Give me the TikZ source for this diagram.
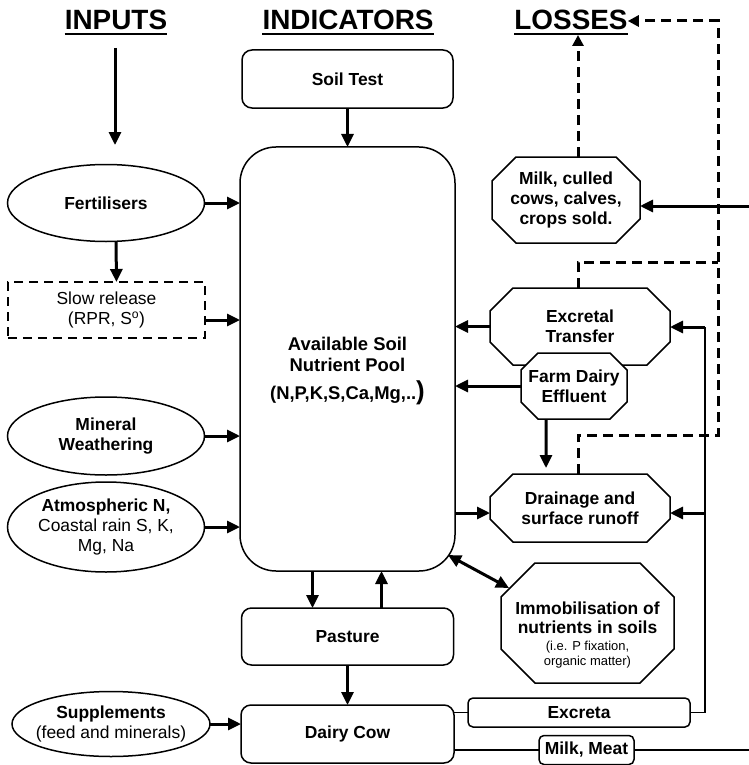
\documentclass[tikz,border=0pt]{standalone}
\usepackage{fontspec}
\setmainfont{Liberation Sans}
\usetikzlibrary{shapes.geometric,arrows.meta,calc}

\makeatletter
\pgfkeys{/pgf/octagon cut/.initial=20bp}
\pgfdeclareshape{octagon box}{
  \inheritsavedanchors[from=rectangle]
  \inheritanchorborder[from=rectangle]
  \inheritanchor[from=rectangle]{center}
  \inheritanchor[from=rectangle]{north}
  \inheritanchor[from=rectangle]{south}
  \inheritanchor[from=rectangle]{east}
  \inheritanchor[from=rectangle]{west}
  \inheritanchor[from=rectangle]{north east}
  \inheritanchor[from=rectangle]{north west}
  \inheritanchor[from=rectangle]{south east}
  \inheritanchor[from=rectangle]{south west}
  \inheritanchor[from=rectangle]{base}
  \inheritanchor[from=rectangle]{text}
  \backgroundpath{%
    \pgfmathsetlength\pgfutil@tempdima{\pgfkeysvalueof{/pgf/octagon cut}}%
    \southwest \edef\octL{\the\pgf@x}\edef\octB{\the\pgf@y}%
    \northeast \edef\octR{\the\pgf@x}\edef\octT{\the\pgf@y}%
    \pgf@x=\octL\advance\pgf@x by\pgfutil@tempdima \edef\octLc{\the\pgf@x}%
    \pgf@x=\octR\advance\pgf@x by-\pgfutil@tempdima \edef\octRc{\the\pgf@x}%
    \pgf@y=\octB\advance\pgf@y by\pgfutil@tempdima \edef\octBc{\the\pgf@y}%
    \pgf@y=\octT\advance\pgf@y by-\pgfutil@tempdima \edef\octTc{\the\pgf@y}%
    \pgfpathmoveto{\pgfqpoint{\octLc}{\octB}}%
    \pgfpathlineto{\pgfqpoint{\octRc}{\octB}}%
    \pgfpathlineto{\pgfqpoint{\octR}{\octBc}}%
    \pgfpathlineto{\pgfqpoint{\octR}{\octTc}}%
    \pgfpathlineto{\pgfqpoint{\octRc}{\octT}}%
    \pgfpathlineto{\pgfqpoint{\octLc}{\octT}}%
    \pgfpathlineto{\pgfqpoint{\octL}{\octTc}}%
    \pgfpathlineto{\pgfqpoint{\octL}{\octBc}}%
    \pgfpathclose
  }
}
\makeatother

\tikzset{
  box/.style={draw, line width=1.5bp, fill=white, align=center, inner sep=0pt, outer sep=0pt,
    font=\bfseries\fontsize{17.5}{20.5}\selectfont},
  plain/.style={font=\fontsize{17.5}{20.5}\selectfont},
  rbox/.style={box, rounded corners=10bp},
  oval/.style={box, ellipse, inner xsep=-30bp, inner ysep=-10bp},
  octo/.style={box, octagon box, octagon cut=#1},
  octo/.default=23bp,
  heading/.style={inner sep=0pt, anchor=base, font=\bfseries\fontsize{28}{32}\selectfont},
  underline/.style={line width=2bp},
  flow/.style={line width=3bp, -{Triangle[length=13bp,width=12bp]}},
  twoway/.style={line width=3bp, {Triangle[length=13bp,width=12bp]}-{Triangle[length=13bp,width=12bp]}},
  link/.style={line width=1.5bp},
  lossline/.style={line width=3bp, dash pattern=on 10bp off 6bp},
  lossflow/.style={lossline, -{Triangle[length=11bp,width=11bp]}}
}

\begin{document}
\begin{tikzpicture}[x=1bp, y=-1bp]
  \useasboundingbox (0,0) rectangle (749,765);

  \node[heading] (inputs) at (116,30) {INPUTS};
  \node[heading] (indicators) at (348,30) {INDICATORS};
  \node[heading] (losses) at (571,30) {LOSSES};
  \foreach \h in {inputs,indicators,losses}
    \draw[underline] ($(\h.base west)+(0,4)$) -- ($(\h.base east)+(0,4)$);

  \node[oval, minimum width=197bp, minimum height=77bp] (fert) at (106,203) {Fertilisers};
  \node[box, plain, line width=2.5bp, dash pattern=on 9bp off 6bp, minimum width=197bp, minimum height=56bp] (slow) at (106.5,310) {Slow release\\(RPR, S\textsuperscript{o})};
  \node[oval, minimum width=197bp, minimum height=78bp] (mineral) at (106,436) {Mineral\\Weathering};
  \node[oval, plain, minimum width=197bp, minimum height=90bp] (atmos) at (106,527) {\textbf{Atmospheric N,}\\Coastal rain S, K,\\Mg, Na};
  \node[oval, plain, minimum width=198bp, minimum height=65bp] (supp) at (111,724) {\textbf{Supplements}\\(feed and minerals)};

  \node[rbox, minimum width=211bp, minimum height=58bp] (soil) at (347.5,79) {Soil Test};
  \node[rbox, rounded corners=36bp, minimum width=215bp, minimum height=424bp] (pool) at (347.5,359) {};
  \node[align=center, font=\bfseries\fontsize{18.5}{22}\selectfont] (poolText) at (347.5,371) {Available Soil\\Nutrient Pool\\[6bp](N,P,K,S,Ca,Mg,..{\fontsize{26}{26}\selectfont )}};
  \node[rbox, minimum width=212bp, minimum height=57bp] (pasture) at (347.5,636.5) {Pasture};
  \node[rbox, minimum width=213bp, minimum height=58bp] (dairy) at (347.5,734) {Dairy Cow};

  \node[octo=24bp, minimum width=148bp, minimum height=86bp] (sold) at (566,200) {Milk, culled\\cows, calves,\\crops sold.};
  \node[octo, minimum width=180bp, minimum height=77bp] (excretal) at (580,326.5) {Excretal\\Transfer};
  \node[octo=17bp, minimum width=106bp, minimum height=66bp] (effluent) at (574,386) {Farm Dairy\\Effluent};
  \node[octo, minimum width=180bp, minimum height=68bp] (drainage) at (580,508) {Drainage and\\surface runoff};
  \node[octo=34bp, minimum width=173bp, minimum height=120bp] (immob) at (587.5,623) {};
  \node[align=center, font=\fontsize{13}{15}\selectfont] (immobText) at (587.5,635) {{\bfseries\fontsize{17.5}{20.5}\selectfont Immobilisation of}\\[4bp]{\bfseries\fontsize{17.5}{20.5}\selectfont nutrients in soils}\\[3bp](i.e. P fixation,\\organic matter)};
  \node[box, rounded corners=5bp, minimum width=222bp, minimum height=29bp] (excreta) at (579,712.5) {Excreta};
  \node[box, rounded corners=5bp, minimum width=95bp, minimum height=29bp] (meat) at (586.5,750) {Milk, Meat};

  \coordinate (inTop) at (115,48);
  \coordinate (inEnd) at (115,145);
  \draw[flow] (inTop) -- (inEnd);
  \draw[flow] ([xshift=10bp]fert.south) -- ([xshift=10bp]slow.north);
  \draw[flow] (fert.east) -- (fert.east -| pool.west);
  \coordinate (slowOut) at ([yshift=-10bp]slow.east);
  \draw[flow] (slowOut) -- (slowOut -| pool.west);
  \draw[flow] (mineral.east) -- (mineral.east -| pool.west);
  \draw[flow] (atmos.east) -- (atmos.east -| pool.west);
  \draw[flow] (soil) -- (pool);
  \draw[flow] ([xshift=-35bp]pool.south) -- ([xshift=-35bp]pasture.north);
  \draw[flow] ([xshift=34bp]pasture.north) -- ([xshift=34bp]pool.south);
  \draw[flow] (pasture) -- (dairy);
  \draw[flow] (supp.east) -- (supp.east -| dairy.west);

  \draw[flow] (excretal.west) -- (excretal.west -| pool.east);
  \draw[flow] (effluent.west) -- (effluent.west -| pool.east);
  \draw[flow, shorten >=6bp] ([xshift=-28bp]effluent.south) -- ([xshift=-34bp]drainage.north);
  \coordinate (drainIn) at ([yshift=-5bp]drainage.west);
  \draw[flow] (drainIn -| pool.east) -- (drainIn);
  \coordinate (poolCorner) at ($(pool.south east)+(-7,-16)$);
  \coordinate (immobCorner) at ($(immob.north west)+(8,25)$);
  \draw[twoway] (poolCorner) -- (immobCorner);

  \coordinate (busTop) at (705,327);
  \draw[link] (excreta.east) -| (busTop);
  \draw[flow] (busTop) -- (busTop -| excretal.east);
  \coordinate (drainOut) at ([yshift=-5bp]drainage.east);
  \draw[flow] (drainOut -| busTop) -- (drainOut);
  \draw[link] (excreta.west -| dairy.east) -- (excreta.west);
  \draw[link] (meat.west -| dairy.east) -- (meat.west);
  \coordinate (meatOut) at (749,750);
  \draw[link] (meat.east) -- (meatOut);
  \coordinate (soldIn) at (749,206);
  \draw[flow] (soldIn) -- (soldIn -| sold.east);

  \coordinate (lossTurn) at (718,435);
  \coordinate (lossTop) at (718,21);
  \coordinate (excJoin) at (718,262);
  \draw[lossflow] ([xshift=-2bp]drainage.north) |- (lossTurn) -- (lossTop) -- (lossTop -| losses.east);
  \draw[lossline] ([xshift=-2bp]excretal.north) |- (excJoin);
  \coordinate (soldUp) at ([xshift=12bp]sold.north);
  \draw[lossflow, shorten >=5bp] (soldUp) -- (soldUp |- losses.base);
\end{tikzpicture}
\end{document}
